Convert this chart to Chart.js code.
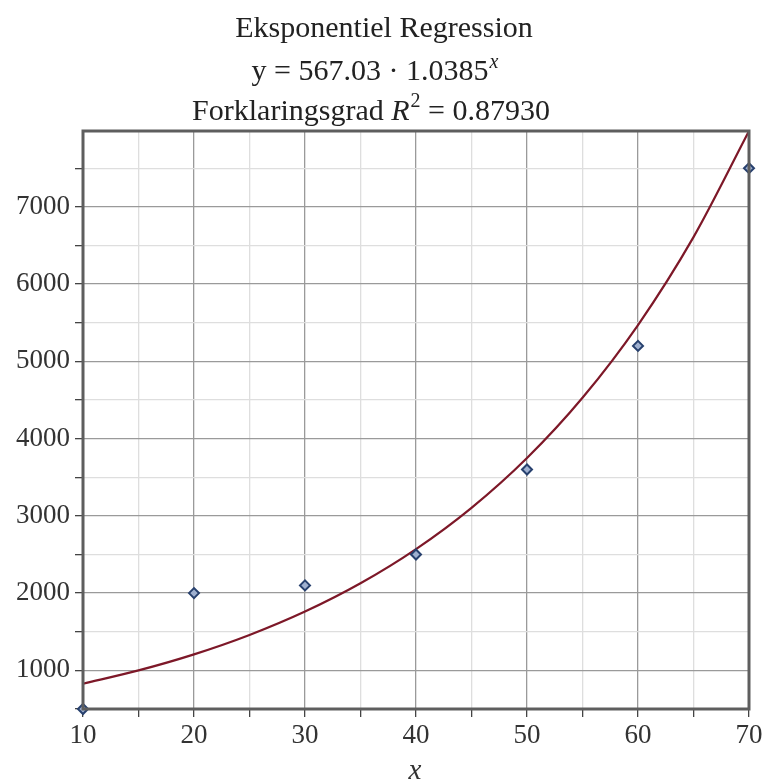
<!DOCTYPE html>
<html>
<head>
<meta charset="utf-8">
<script src="https://cdn.jsdelivr.net/npm/chart.js@4.4.1/dist/chart.umd.min.js"></script>
<style>
  html, body { margin: 0; padding: 0; background: #ffffff; }
  #wrap { width: 766px; height: 783px; position: relative; }
</style>
</head>
<body>
<div id="wrap"><canvas id="c" width="766" height="783"></canvas></div>
<script>
// ---- data ----
const xValues = [10, 20, 30, 40, 50, 60, 70];
const yValues = [500, 2000, 2100, 2500, 3600, 5200, 7500];
// regression curve read along x
const curveX = [10, 15, 20, 25, 30, 35, 40, 45, 50, 55, 60, 65, 70];
const curveY = [827.3, 999.3, 1207.1, 1458.1, 1761.2, 2127.4, 2569.7, 3104.0, 3749.3, 4528.9, 5470.3, 6607.9, 7981.4];
// ticks / grid
const xTicks = [10, 15, 20, 25, 30, 35, 40, 45, 50, 55, 60, 65, 70];
const xLabelTicks = [10, 20, 30, 40, 50, 60, 70];
const yTicks = [500, 1000, 1500, 2000, 2500, 3000, 3500, 4000, 4500, 5000, 5500, 6000, 6500, 7000, 7500];
const yLabelTicks = [1000, 2000, 3000, 4000, 5000, 6000, 7000];
const yRange = [500, 7981.4];
const xRange = [10, 70];
const titleLine1 = "Eksponentiel Regression";
const titleLine2 = "y = 567.03 \u00B7 1.0385";
const titleLine2Sup = "x";
const titleLine3a = "Forklaringsgrad ";
const titleLine3R = "R";
const titleLine3Sup = "2";
const titleLine3b = " = 0.87930";
const xAxisTitle = "x";

const SERIF = '"Liberation Serif", "Times New Roman", serif';

const framePlugin = {
  id: 'framePlugin',
  afterDraw(chart) {
    const ctx = chart.ctx;
    const a = chart.chartArea;
    ctx.save();
    ctx.strokeStyle = '#5e5e5e';
    ctx.lineWidth = 3;
    ctx.strokeRect(a.left, a.top, a.right - a.left, a.bottom - a.top);

    // titles
    ctx.fillStyle = '#222';
    ctx.textBaseline = 'alphabetic';
    ctx.font = '30px ' + SERIF;
    ctx.textAlign = 'center';
    ctx.fillText(titleLine1, 384, 37);

    // line 2
    ctx.textAlign = 'left';
    ctx.font = '30px ' + SERIF;
    const w2a = ctx.measureText(titleLine2).width;
    ctx.font = 'italic 20px ' + SERIF;
    const w2s = ctx.measureText(titleLine2Sup).width;
    let x2 = 375 - (w2a + w2s + 1) / 2;
    ctx.font = '30px ' + SERIF;
    ctx.fillText(titleLine2, x2, 80);
    ctx.font = 'italic 20px ' + SERIF;
    ctx.fillText(titleLine2Sup, x2 + w2a + 1, 68);

    // line 3
    ctx.font = '30px ' + SERIF;
    const w3a = ctx.measureText(titleLine3a).width;
    const w3b = ctx.measureText(titleLine3b).width;
    ctx.font = 'italic 30px ' + SERIF;
    const w3r = ctx.measureText(titleLine3R).width;
    ctx.font = '20px ' + SERIF;
    const w3s = ctx.measureText(titleLine3Sup).width;
    const total3 = w3a + w3r + w3s + w3b + 1;
    let x3 = 371 - total3 / 2;
    ctx.font = '30px ' + SERIF;
    ctx.fillText(titleLine3a, x3, 120);
    x3 += w3a;
    ctx.font = 'italic 30px ' + SERIF;
    ctx.fillText(titleLine3R, x3, 120);
    x3 += w3r + 1;
    ctx.font = '20px ' + SERIF;
    ctx.fillText(titleLine3Sup, x3, 107);
    x3 += w3s;
    ctx.font = '30px ' + SERIF;
    ctx.fillText(titleLine3b, x3, 120);

    // x axis title
    ctx.font = 'italic 29px ' + SERIF;
    ctx.textAlign = 'center';
    ctx.fillStyle = '#333';
    ctx.fillText(xAxisTitle, 415, 779);
    ctx.restore();
  }
};

new Chart(document.getElementById('c'), {
  type: 'scatter',
  data: {
    datasets: [
      {
        label: 'curve',
        data: curveX.map((x, i) => ({ x: x, y: curveY[i] })),
        showLine: true,
        borderColor: '#7d1828',
        borderWidth: 2.2,
        pointRadius: 0,
        cubicInterpolationMode: 'monotone',
        fill: false,
        clip: 4,
        order: 2
      },
      {
        label: 'data',
        data: xValues.map((x, i) => ({ x: x, y: yValues[i] })),
        showLine: false,
        pointStyle: 'rectRot',
        pointRadius: 5,
        pointBorderWidth: 2,
        pointBorderColor: '#27406e',
        pointBackgroundColor: '#9fb0d0',
        clip: false,
        order: 1
      }
    ]
  },
  options: {
    responsive: false,
    animation: false,
    devicePixelRatio: 1,
    layout: { padding: { top: 131, right: 17, left: 0, bottom: 0 } },
    plugins: {
      legend: { display: false },
      title: { display: false },
      tooltip: { enabled: false }
    },
    scales: {
      x: {
        type: 'linear',
        min: xRange[0],
        max: xRange[1],
        afterBuildTicks: (s) => { s.ticks = xTicks.map(v => ({ value: v })); },
        afterFit: (s) => { s.height = 74; },
        border: { display: false },
        grid: {
          color: (c) => (c.tick && xLabelTicks.includes(c.tick.value)) ? '#9a9a9a' : '#dedede',
          tickColor: '#444',
          tickLength: 8,
          lineWidth: 1.3
        },
        ticks: {
          autoSkip: false,
          maxRotation: 0,
          padding: 3,
          color: '#333',
          font: { family: SERIF, size: 27, lineHeight: 1.2 },
          callback: (v) => xLabelTicks.includes(v) ? String(v) : ''
        }
      },
      y: {
        type: 'linear',
        min: yRange[0],
        max: yRange[1],
        afterBuildTicks: (s) => { s.ticks = yTicks.map(v => ({ value: v })); },
        afterFit: (s) => { s.width = 83; },
        border: { display: false },
        grid: {
          color: (c) => (c.tick && yLabelTicks.includes(c.tick.value)) ? '#9a9a9a' : '#dedede',
          tickColor: '#444',
          tickLength: 8,
          lineWidth: 1.3
        },
        ticks: {
          autoSkip: false,
          padding: 5,
          color: '#333',
          font: { family: SERIF, size: 27, lineHeight: 1.2 },
          callback: (v) => yLabelTicks.includes(v) ? String(v) : ''
        }
      }
    }
  },
  plugins: [framePlugin]
});
</script>
</body>
</html>
